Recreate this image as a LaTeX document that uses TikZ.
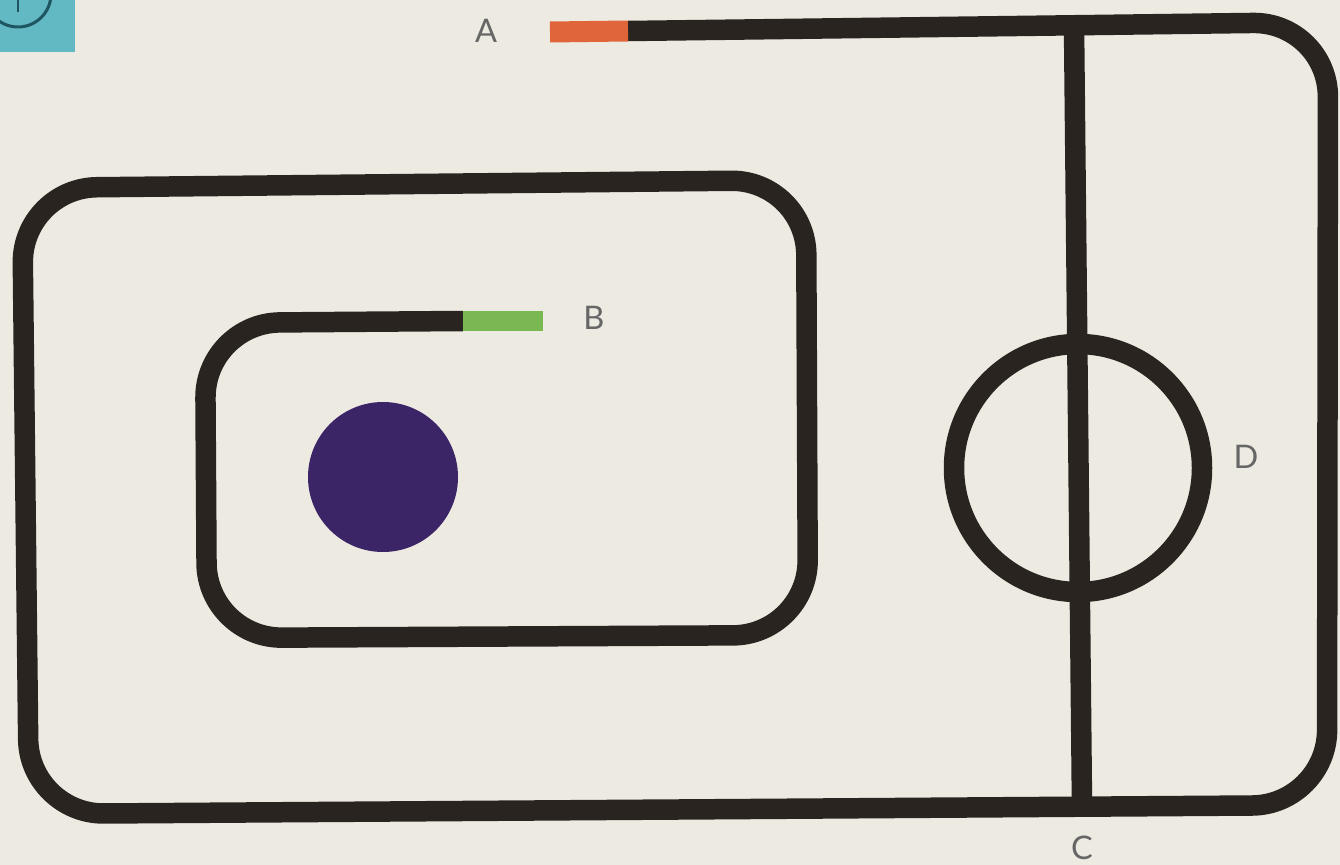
\documentclass[tikz,border=0pt]{standalone}
\usepackage{fontspec}
\setmainfont{Lato}
\definecolor{bgpaper}{HTML}{EDEAE2}
\definecolor{trackc}{HTML}{2A2420}
\definecolor{orangec}{HTML}{E0653A}
\definecolor{greenc}{HTML}{7AB851}
\definecolor{purplec}{HTML}{3B2566}
\definecolor{tealc}{HTML}{62B9C4}
\definecolor{tealdark}{HTML}{1F5560}
\definecolor{labelc}{HTML}{666666}
\tikzset{
  track/.style={draw=trackc, line width=0.41cm, line cap=butt, line join=round},
  startseg/.style={draw=orangec, line width=0.42cm, line cap=butt},
  endseg/.style={draw=greenc, line width=0.42cm, line cap=butt},
  lbl/.style={text=labelc, font=\fontsize{18.5}{20}\selectfont, inner sep=0pt}
}
\begin{document}
\begin{tikzpicture}[x=0.02cm, y=-0.02cm]
\useasboundingbox (0,0) rectangle (1340,865);
\fill[bgpaper] (0,0) rectangle (1340,865);
% badge in the corner
\begin{scope}
\clip (0,0) rectangle (75,52);
\fill[tealc] (0,0) rectangle (75,52);
\draw[tealdark, line width=0.06cm] (18,-6) circle[radius=33];
\draw[tealdark, line width=0.06cm] (18,-10) -- (18,12);
\end{scope}
% spiral track
\draw[track, rounded corners=1.5cm]
  (628,31) -- (1328,22) -- (1327,805) -- (29,814) -- (22,188)
  -- (806,180) -- (808,635) -- (207,638) -- (205,323) -- (463,321);
\draw[startseg] (550,32) -- (628,31);
\draw[endseg] (463,321) -- (543,321);
% vertical line and ring
\draw[track] (1074,24) -- (1082,806);
\draw[track] (1078,468) circle[radius=124];
% purple disc
\fill[purplec] (383,477) circle[radius=75];
% labels
\node[lbl] (A) at (486,31) {A};
\node[lbl] (B) at (594,318) {B};
\node[lbl] (C) at (1082,848) {C};
\node[lbl] (D) at (1246,457) {D};
\end{tikzpicture}
\end{document}
